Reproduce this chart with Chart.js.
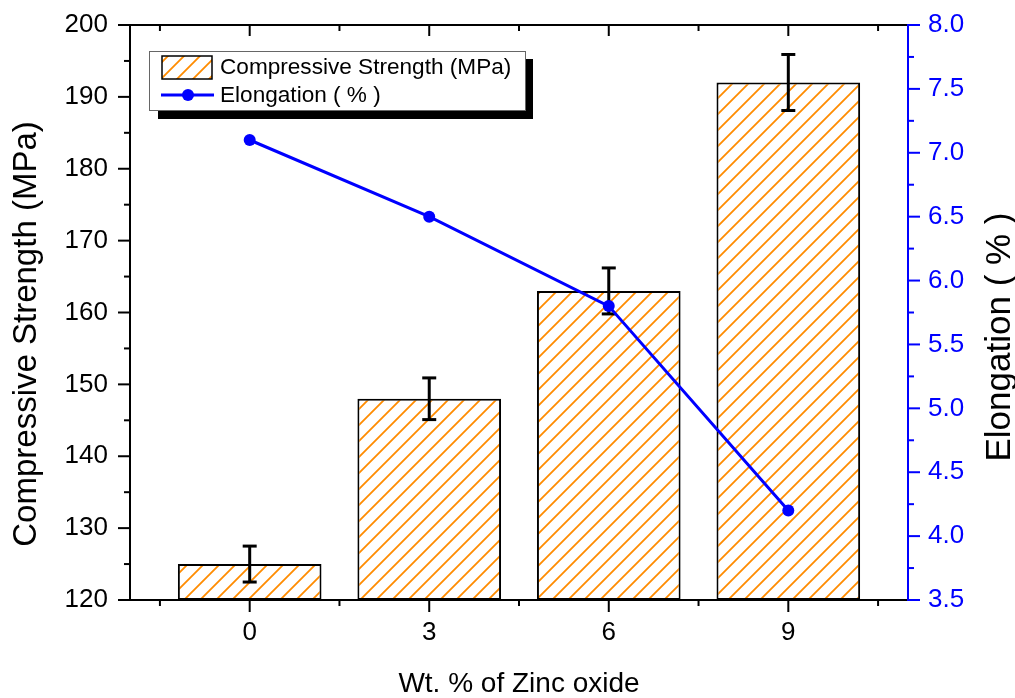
<!DOCTYPE html>
<html>
<head>
<meta charset="utf-8">
<script src="https://cdn.jsdelivr.net/npm/chart.js@4.4.1/dist/chart.umd.min.js"></script>
<style>
  html, body { margin: 0; padding: 0; background: #fff; }
  #wrap { width: 1015px; height: 698px; }
</style>
</head>
<body>
<div id="wrap"><canvas id="chart" width="1015" height="698"></canvas></div>
<script>
// data
const ZNO_WT = [0, 3, 6, 9];
const STRENGTH = [125, 148, 163, 192];
const STRENGTH_ERR = [2.5, 2.9, 3.2, 3.9];
const ELONGATION = [7.1, 6.5, 5.8, 4.2];

// axis ticks
const X_TICKS = [0, 3, 6, 9];
const X_MINOR = [-1.5, 1.5, 4.5, 7.5, 10.5];
const Y_TICKS = [120, 130, 140, 150, 160, 170, 180, 190, 200];
const Y_MINOR = [125, 135, 145, 155, 165, 175, 185, 195];
const Y2_TICKS = [3.5, 4.0, 4.5, 5.0, 5.5, 6.0, 6.5, 7.0, 7.5, 8.0];
const Y2_MINOR = [3.75, 4.25, 4.75, 5.25, 5.75, 6.25, 6.75, 7.25, 7.75];

const FONT = 'Liberation Sans, Arial, sans-serif';
const ORANGE = '#ff8c00';
const BLUE = '#0000ff';

const canvas = document.getElementById('chart');
const ctx = canvas.getContext('2d');

// diagonal hatch like Origin's pattern fill
function makeHatch() {
  const c = document.createElement('canvas');
  c.width = 16; c.height = 16;
  const g = c.getContext('2d');
  g.fillStyle = '#fff';
  g.fillRect(0, 0, 16, 16);
  g.strokeStyle = ORANGE;
  g.lineWidth = 1.8;
  g.beginPath();
  g.moveTo(-2, 18); g.lineTo(18, -2);
  g.moveTo(-2, 2); g.lineTo(2, -2);
  g.moveTo(14, 18); g.lineTo(18, 14);
  g.stroke();
  return ctx.createPattern(c, 'repeat');
}
const hatch = makeHatch();

function line(c, x1, y1, x2, y2) {
  c.beginPath(); c.moveTo(x1, y1); c.lineTo(x2, y2); c.stroke();
}

// keep tick label padding from pushing the plot area around
function fixBox(size, key) {
  return s => {
    s[key] = size;
    s.paddingTop = 0; s.paddingBottom = 0;
    s.paddingLeft = 0; s.paddingRight = 0;
  };
}

const originPlugin = {
  id: 'originLook',
  beforeDraw(chart) {
    const c = chart.ctx;
    c.save();
    c.fillStyle = '#fff';
    c.fillRect(0, 0, chart.width, chart.height);
    c.restore();
  },
  afterDatasetDraw(chart, args) {
    if (args.meta.type !== 'bar') return;
    const c = chart.ctx, xs = chart.scales.x, ys = chart.scales.y;
    c.save();
    c.strokeStyle = '#000';
    c.lineWidth = 3;
    ZNO_WT.forEach((w, i) => {
      const x = xs.getPixelForValue(w);
      const yt = ys.getPixelForValue(STRENGTH[i] + STRENGTH_ERR[i]);
      const yb = ys.getPixelForValue(STRENGTH[i] - STRENGTH_ERR[i]);
      line(c, x, yt, x, yb);
      line(c, x - 7, yt, x + 7, yt);
      line(c, x - 7, yb, x + 7, yb);
    });
    c.restore();
  },
  afterDraw(chart) {
    const c = chart.ctx, a = chart.chartArea;
    const xs = chart.scales.x, ys = chart.scales.y, y2 = chart.scales.y2;
    c.save();
    c.lineCap = 'butt';

    // frame + ticks
    c.strokeStyle = '#000';
    c.lineWidth = 2;
    line(c, a.left, a.top, a.right, a.top);
    line(c, a.left - 1, a.bottom, a.right, a.bottom);
    line(c, a.left, a.top - 1, a.left, a.bottom + 1);
    X_TICKS.forEach(v => {
      const x = xs.getPixelForValue(v);
      line(c, x, a.bottom, x, a.bottom + 12);
      line(c, x, a.top, x, a.top + 11);
    });
    X_MINOR.forEach(v => {
      const x = xs.getPixelForValue(v);
      line(c, x, a.bottom, x, a.bottom + 6);
      line(c, x, a.top, x, a.top + 6);
    });
    Y_TICKS.forEach(v => {
      const y = ys.getPixelForValue(v);
      line(c, a.left - 12, y, a.left, y);
    });
    Y_MINOR.forEach(v => {
      const y = ys.getPixelForValue(v);
      line(c, a.left - 6, y, a.left, y);
    });

    c.strokeStyle = BLUE;
    line(c, a.right, a.top - 1, a.right, a.bottom + 1);
    Y2_TICKS.forEach(v => {
      const y = y2.getPixelForValue(v);
      line(c, a.right, y, a.right + 12, y);
    });
    Y2_MINOR.forEach(v => {
      const y = y2.getPixelForValue(v);
      line(c, a.right, y, a.right + 6, y);
    });

    // axis titles
    c.fillStyle = '#000';
    c.textAlign = 'center';
    c.textBaseline = 'alphabetic';
    c.font = '28px ' + FONT;
    c.fillText('Wt. % of Zinc oxide', (a.left + a.right) / 2, 692);

    c.save();
    c.translate(36, 334);
    c.rotate(-Math.PI / 2);
    c.font = '33px ' + FONT;
    c.fillText('Compressive Strength (MPa)', 0, 0);
    c.restore();

    c.save();
    c.translate(1010, 337);
    c.rotate(-Math.PI / 2);
    c.font = '35px ' + FONT;
    c.fillText('Elongation ( % )', 0, 0);
    c.restore();

    // legend with drop shadow
    const ds = chart.data.datasets;
    c.fillStyle = '#000';
    c.fillRect(158, 59, 375, 60);
    c.fillStyle = '#fff';
    c.fillRect(149.5, 51.5, 376, 59);
    c.strokeStyle = '#666';
    c.lineWidth = 1;
    c.strokeRect(149.5, 51.5, 376, 59);

    const bar = ds.find(d => d.type === 'bar');
    const ln = ds.find(d => d.type === 'line');
    c.fillStyle = hatch;
    c.fillRect(162, 56, 50, 23);
    c.strokeStyle = '#000';
    c.lineWidth = 1.5;
    c.strokeRect(162, 56, 50, 23);

    c.strokeStyle = BLUE;
    c.lineWidth = 3;
    line(c, 161, 95, 214, 95);
    c.fillStyle = BLUE;
    c.beginPath(); c.arc(188, 95, 6, 0, Math.PI * 2); c.fill();

    c.fillStyle = '#000';
    c.textAlign = 'left';
    c.font = '22.6px ' + FONT;
    c.fillText(bar.label, 220, 74);
    c.fillText(ln.label, 220, 102);
    c.restore();
  }
};

new Chart(ctx, {
  type: 'bar',
  data: {
    datasets: [{
      type: 'line',
      label: 'Elongation ( % )',
      data: ZNO_WT.map((w, i) => ({ x: w, y: ELONGATION[i] })),
      yAxisID: 'y2',
      borderColor: BLUE,
      backgroundColor: BLUE,
      borderWidth: 3,
      pointRadius: 6,
      pointBorderWidth: 0,
      pointBackgroundColor: BLUE,
      tension: 0,
      order: 0
    }, {
      type: 'bar',
      label: 'Compressive Strength (MPa)',
      data: ZNO_WT.map((w, i) => ({ x: w, y: STRENGTH[i] })),
      yAxisID: 'y',
      backgroundColor: hatch,
      borderColor: '#000',
      borderWidth: 2,
      borderSkipped: false,
      barPercentage: 1,
      categoryPercentage: 0.8,
      base: 120,
      order: 1
    }]
  },
  options: {
    responsive: false,
    animation: false,
    layout: { padding: { top: 25, left: 0, right: 0, bottom: 0 } },
    plugins: { legend: { display: false }, tooltip: { enabled: false } },
    scales: {
      x: {
        type: 'linear', min: -2, max: 11, offset: false,
        grid: { display: false, drawTicks: false },
        border: { display: false },
        ticks: { font: { family: FONT, size: 26 }, color: '#000', padding: 17, autoSkip: false, maxRotation: 0 },
        afterBuildTicks: s => { s.ticks = X_TICKS.map(v => ({ value: v })); },
        afterFit: fixBox(98, 'height')
      },
      y: {
        type: 'linear', position: 'left', min: 120, max: 200,
        grid: { display: false, drawTicks: false },
        border: { display: false },
        ticks: { font: { family: FONT, size: 26 }, color: '#000', padding: 22, autoSkip: false },
        afterBuildTicks: s => { s.ticks = Y_TICKS.map(v => ({ value: v })); },
        afterFit: fixBox(130, 'width')
      },
      y2: {
        type: 'linear', position: 'right', min: 3.5, max: 8.0,
        grid: { display: false, drawTicks: false },
        border: { display: false },
        ticks: { font: { family: FONT, size: 26 }, color: BLUE, padding: 20, autoSkip: false,
                 callback: v => Number(v).toFixed(1) },
        afterBuildTicks: s => { s.ticks = Y2_TICKS.map(v => ({ value: v })); },
        afterFit: fixBox(107, 'width')
      }
    }
  },
  plugins: [originPlugin]
});
</script>
</body>
</html>
